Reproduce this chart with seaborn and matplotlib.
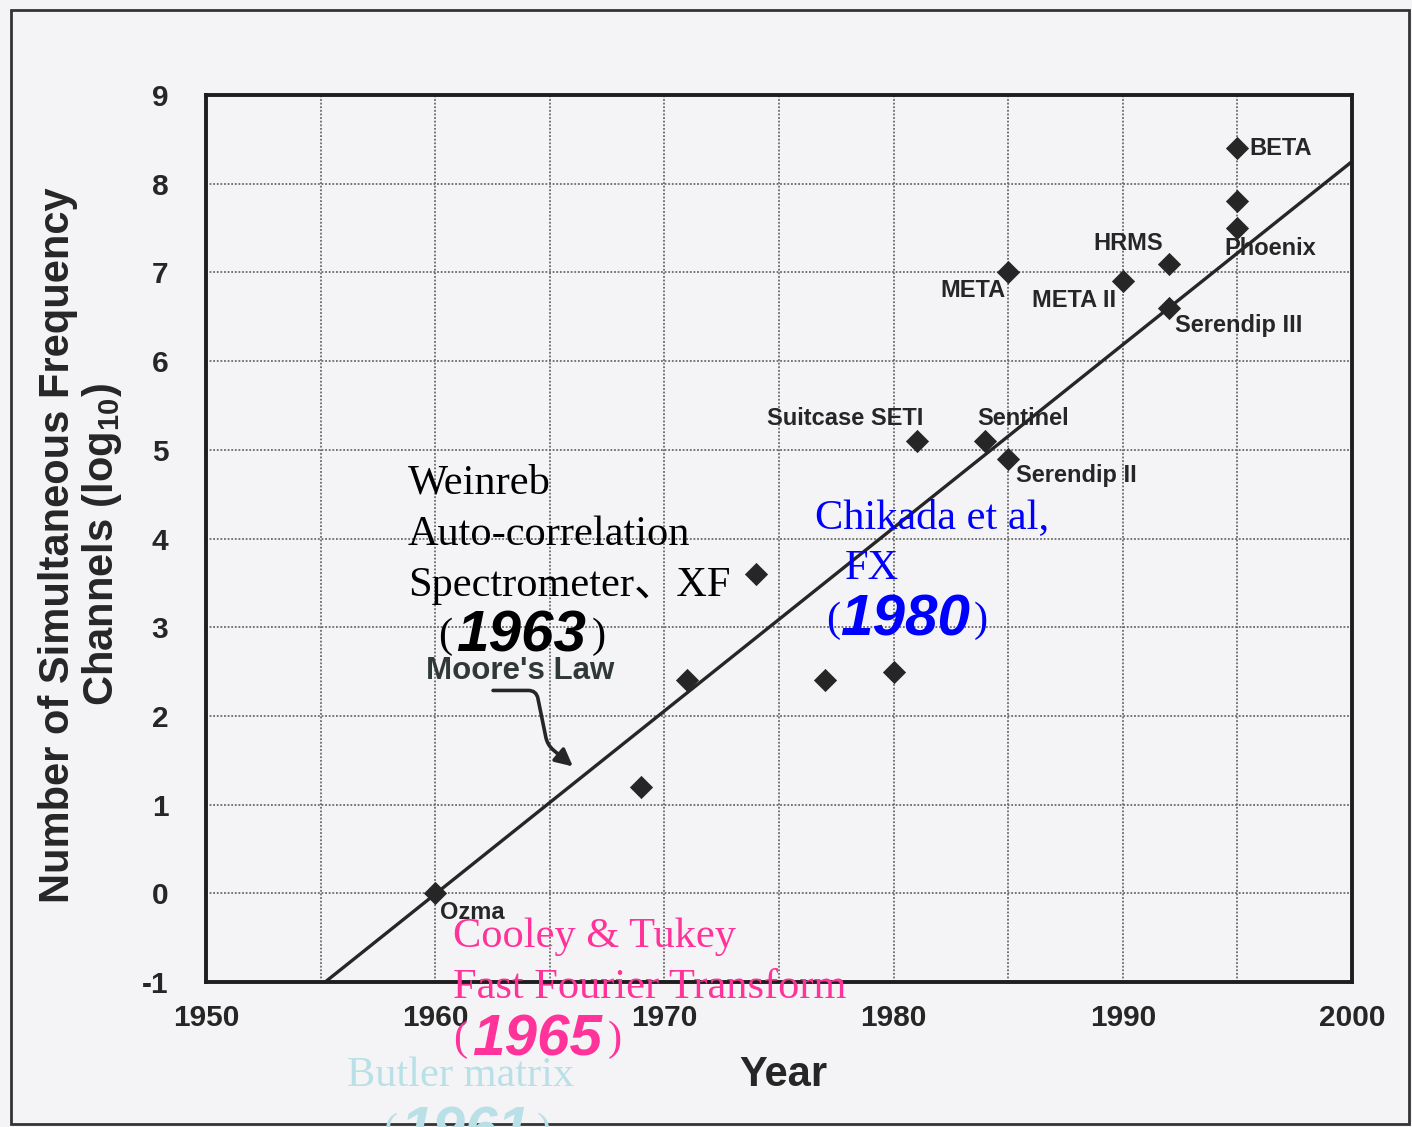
import matplotlib
matplotlib.use("Agg")
import matplotlib.pyplot as plt
import seaborn as sns
import pandas as pd
from matplotlib.ticker import MultipleLocator
from matplotlib.patches import Rectangle

# data
years = [1960, 1969, 1971, 1974, 1977, 1980, 1981, 1984, 1985, 1985, 1990, 1992, 1992, 1995, 1995, 1995]
log_channels = [0, 1.2, 2.4, 3.6, 2.4, 2.5, 5.1, 5.1, 4.9, 7.0, 6.9, 7.1, 6.6, 8.4, 7.8, 7.5]
names = ["Ozma", "", "", "", "", "", "Suitcase SETI", "Sentinel", "Serendip II",
         "META", "META II", "HRMS", "Serendip III", "BETA", "", "Phoenix"]

moore_years = [1955.2, 2000]
moore_log = [-1, 8.25]

x_ticks = [1950, 1960, 1970, 1980, 1990, 2000]
y_ticks = [-1, 0, 1, 2, 3, 4, 5, 6, 7, 8, 9]

df = pd.DataFrame({"Year": years, "log": log_channels, "name": names})
moore = pd.DataFrame({"Year": moore_years, "log": moore_log})

sns.set_style("white")
plt.rcParams["font.family"] = ["Liberation Sans", "DejaVu Sans"]
plt.rcParams["axes.unicode_minus"] = False
plt.rcParams["mathtext.fontset"] = "custom"
plt.rcParams["mathtext.rm"] = "Liberation Sans:bold"
plt.rcParams["mathtext.it"] = "Liberation Sans:bold"

bg = "#f4f4f6"
ink = "#262626"
W, H = 1412, 1127

fig = plt.figure(figsize=(W / 100, H / 100), dpi=100, facecolor=bg)
ax = fig.add_axes([206 / W, 1 - 982 / H, 1146 / W, 887 / H])
ax.set_facecolor(bg)

sns.lineplot(data=moore, x="Year", y="log", color=ink, linewidth=2.4, ax=ax)
sns.scatterplot(data=df, x="Year", y="log", marker="D", s=140, color=ink,
                edgecolor=ink, linewidth=0, ax=ax, zorder=5)

ax.set_xlim(1950, 2000)
ax.set_ylim(-1, 9)
ax.set_xticks(x_ticks)
ax.set_yticks(y_ticks)
ax.xaxis.set_minor_locator(MultipleLocator(5))
ax.grid(True, which="both", axis="x", linestyle=(0, (1, 1)), color="#6a6a6a", linewidth=1.3)
ax.grid(True, which="major", axis="y", linestyle=(0, (1, 1)), color="#6a6a6a", linewidth=1.3)
ax.set_axisbelow(True)
ax.tick_params(axis="both", which="both", length=0, colors=ink)
ax.tick_params(axis="x", pad=16)
ax.tick_params(axis="y", pad=27)
for lbl in ax.get_xticklabels() + ax.get_yticklabels():
    lbl.set_fontsize(21.5)
    lbl.set_fontweight("bold")
for sp in ax.spines.values():
    sp.set_color("#1e1e1e")
    sp.set_linewidth(2.8)

ax.set_xlabel("Year", fontsize=30, fontweight="bold", color=ink, va="center")
ax.xaxis.set_label_coords(0.5035, -0.105)
ax.set_ylabel("Number of Simultaneous Frequency\nChannels (log$_{10}$)", fontsize=30,
              fontweight="bold", color=ink, va="center", ha="center", linespacing=1.05)
ax.yaxis.set_label_coords(-0.109, 0.493)

# point labels: (dx, dy) in points, horizontal alignment
offsets = {
    "Ozma": (3.5, -14, "left"),
    "Suitcase SETI": (5, 16, "right"),
    "Sentinel": (-6, 16.5, "left"),
    "Serendip II": (5.5, -12, "left"),
    "META": (-2, -13, "right"),
    "META II": (-5, -14, "right"),
    "HRMS": (-4, 14.5, "right"),
    "Serendip III": (4.5, -13, "left"),
    "BETA": (8.5, 0, "left"),
    "Phoenix": (-9.5, -15, "left"),
}
for _, row in df.iterrows():
    if row["name"]:
        dx, dy, ha = offsets[row["name"]]
        ax.annotate(row["name"], (row["Year"], row["log"]), xytext=(dx, dy),
                    textcoords="offset points", ha=ha, va="center",
                    fontsize=17, fontweight="bold", color=ink, zorder=6)

# Moore's Law callout
ax.annotate("", xy=(1966.1, 1.41), xytext=(-61, 56), textcoords="offset points",
            arrowprops=dict(arrowstyle="-|>", color=ink, lw=2.6, mutation_scale=26,
                            connectionstyle="arc,angleA=0,armA=46,angleB=140,armB=36,rad=8"))
ax.annotate("Moore's Law", xy=(1966.1, 1.41), xytext=(-107, 70), textcoords="offset points",
            ha="left", va="center", fontsize=22.5, fontweight="bold", color="#303838")

# overlaid annotations (figure pixel positions)
serif = ["Liberation Serif", "Noto Sans CJK SC", "DejaVu Serif"]


def ftxt(x, y, s, color, size=30.5):
    fig.text(x / W, 1 - y / H, s, color=color, fontsize=size, family=serif,
             ha="left", va="center")


def year_txt(x_open, x_num, x_close, y, s, color):
    ftxt(x_open, y, "(", color)
    fig.text(x_num / W, 1 - y / H, s, color=color, fontsize=42,
             family=["Liberation Sans", "DejaVu Sans"], fontweight="bold",
             fontstyle="italic", ha="left", va="center")
    ftxt(x_close, y, ")", color)


black = "#000000"
ftxt(408, 483, "Weinreb", black)
ftxt(408, 535, "Auto-correlation", black)
ftxt(408, 586, "Spectrometer、XF", black)
year_txt(438, 456, 592, 637, "1963", black)

blue = "#0000ff"
ftxt(815, 518, "Chikada et al,", blue)
ftxt(845, 569, "FX", blue)
year_txt(826, 840, 974, 621, "1980", blue)

pink = "#ff3399"
ftxt(453, 937, "Cooley & Tukey", pink)
ftxt(453, 988, "Fast Fourier Transform", pink)
year_txt(453, 472, 608, 1040, "1965", pink)

cyan = "#b8e0e6"
ftxt(347, 1076, "Butler matrix", cyan)
year_txt(383, 400, 537, 1132, "1961", cyan)

# outer frame of the scanned figure
fig.patches.append(Rectangle((11 / W, 3 / H), 1398 / W, 1114 / H, transform=fig.transFigure,
                             fill=False, edgecolor="#333333", linewidth=2))

fig.savefig("out.png", dpi=100, facecolor=bg)
